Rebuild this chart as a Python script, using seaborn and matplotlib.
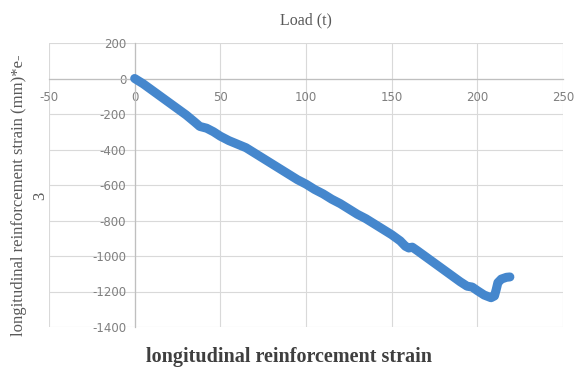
import matplotlib
matplotlib.use("Agg")
import matplotlib.pyplot as plt
import seaborn as sns
import pandas as pd

# Load (t) and measured strain of the longitudinal reinforcement (mm * e-3)
load = [0, 5, 10, 15, 20, 25, 30, 35, 38, 42, 46, 50, 55, 60, 65, 70, 75, 80,
        85, 90, 95, 100, 105, 110, 115, 120, 125, 130, 135, 140, 145, 150, 155,
        158, 160, 162, 165, 170, 175, 180, 185, 190, 194, 197, 200, 204, 208,
        210, 211, 212, 214, 217, 219]
strain = [0, -30, -65, -100, -135, -170, -205, -245, -270, -280, -300, -325,
          -350, -370, -390, -420, -450, -480, -510, -540, -570, -595, -625,
          -650, -680, -705, -735, -765, -790, -820, -850, -880, -915, -945,
          -955, -950, -970, -1005, -1040, -1075, -1110, -1145, -1170, -1175,
          -1195, -1220, -1235, -1225, -1190, -1150, -1130, -1120, -1118]

x_ticks = [-50, 0, 50, 100, 150, 200, 250]
y_ticks = [200, 0, -200, -400, -600, -800, -1000, -1200, -1400]

df = pd.DataFrame({"load": load, "strain": strain})

sns.set_theme(style="white")
plt.rcParams["font.family"] = ["DejaVu Sans"]

fig = plt.figure(figsize=(5.74, 3.78), dpi=100)
ax = fig.add_axes([49 / 574, 1 - 327 / 378, (563 - 49) / 574, (327 - 43) / 378])

sns.lineplot(data=df, x="load", y="strain", sort=False, estimator=None,
             color="#4587cd", linewidth=6.5, solid_capstyle="round",
             solid_joinstyle="round", ax=ax, zorder=3)

ax.set_xlim(-50, 250)
ax.set_ylim(-1400, 200)
ax.set_xticks(x_ticks)
ax.set_yticks(y_ticks)
ax.set_xticklabels([str(v) for v in x_ticks])
ax.set_yticklabels([str(v) for v in y_ticks])

# light gridlines framing the plot area
ax.grid(True, color="#d9d9d9", linewidth=0.8, zorder=0)
ax.set_axisbelow(True)

# axes cross at the origin
for side in ("top", "right"):
    ax.spines[side].set_visible(False)
ax.spines["left"].set_position(("data", 0))
ax.spines["bottom"].set_position(("data", 0))
for side in ("left", "bottom"):
    ax.spines[side].set_color("#bfbfbf")
    ax.spines[side].set_linewidth(0.9)
    ax.spines[side].set_zorder(1)

ax.tick_params(axis="both", which="major", labelsize=8.5, labelcolor="#7f7f7f",
               color="#bfbfbf", length=3, width=0.8, direction="out")
ax.tick_params(axis="x", pad=6)
ax.tick_params(axis="y", pad=3)
ax.set_xlabel("")
ax.set_ylabel("")

serif = ["Liberation Serif", "DejaVu Serif"]
fig.text(306 / 574, 1 - 20 / 378, "Load (t)", family=serif, fontsize=11.5,
         color="#595959", ha="center", va="center")
# vertical axis title, wrapped onto a second line after "e-"
fig.text(19 / 574, 1 - 195 / 378, "longitudinal reinforcement strain (mm)*e-",
         family=serif, fontsize=12, color="#595959", rotation=90,
         ha="center", va="center")
fig.text(40 / 574, 1 - 196 / 378, "3",
         family=serif, fontsize=12, color="#595959", rotation=90,
         ha="center", va="center")
fig.text(289 / 574, 1 - 357 / 378, "longitudinal reinforcement strain",
         family=serif, fontsize=14.5, fontweight="bold", color="#3f3f3f",
         ha="center", va="center")

fig.savefig("out.png", dpi=100)
